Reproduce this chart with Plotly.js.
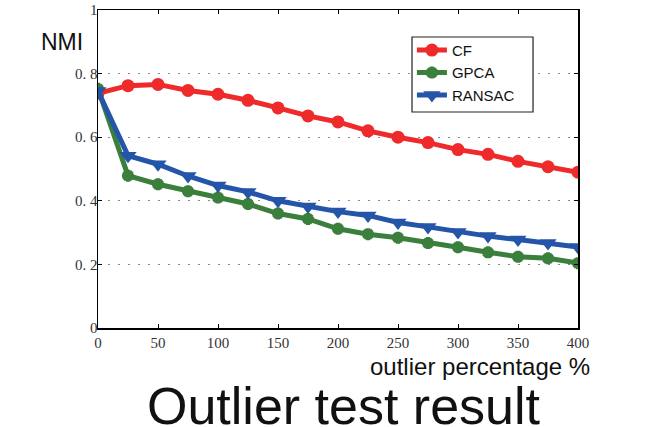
<!DOCTYPE html>
<html>
<head>
<meta charset="utf-8">
<script src="https://cdn.plot.ly/plotly-3.0.1.min.js"></script>
<style>html,body{margin:0;padding:0;background:#fff;}#chart{width:658px;height:427px;}</style>
</head>
<body>
<div id="chart"></div>
<script>
const xValues = [0, 25, 50, 75, 100, 125, 150, 175, 200, 225, 250, 275, 300, 325, 350, 375, 400];
const cfValues = [0.738, 0.762, 0.766, 0.747, 0.735, 0.716, 0.692, 0.667, 0.648, 0.620, 0.600, 0.583, 0.561, 0.546, 0.524, 0.507, 0.490];
const gpcaValues = [0.752, 0.479, 0.452, 0.430, 0.410, 0.390, 0.360, 0.343, 0.312, 0.295, 0.284, 0.267, 0.254, 0.238, 0.224, 0.219, 0.204];
const ransacValues = [0.745, 0.542, 0.515, 0.478, 0.448, 0.428, 0.400, 0.382, 0.366, 0.354, 0.332, 0.318, 0.302, 0.289, 0.278, 0.267, 0.255];
const seriesNames = ["CF", "GPCA", "RANSAC"];
const xTickVals = [0, 50, 100, 150, 200, 250, 300, 350, 400];
const yTickVals = [0, 0.2, 0.4, 0.6, 0.8, 1];
const yTickText = ["0", "0.\u00a02", "0.\u00a04", "0.\u00a06", "0.\u00a08", "1"];

const traces = [
  {x: xValues, y: cfValues, name: seriesNames[0], type: "scatter", mode: "lines+markers",
   line: {color: "#ee2a2a", width: 5}, marker: {symbol: "circle", size: 13, color: "#ee2a2a"}},
  {x: xValues, y: gpcaValues, name: seriesNames[1], type: "scatter", mode: "lines+markers",
   line: {color: "#3a7f3c", width: 5}, marker: {symbol: "asterisk-open", size: 10, color: "#3a7f3c", line: {color: "#3a7f3c", width: 4}}},
  {x: xValues, y: ransacValues, name: seriesNames[2], type: "scatter", mode: "lines+markers",
   line: {color: "#2455a8", width: 5}, marker: {symbol: "triangle-down", size: 15, color: "#2455a8"}}
];

const serif = "Liberation Serif";
const sans = "Liberation Sans";
const layout = {
  width: 658, height: 427,
  margin: {l: 98, r: 80, t: 10, b: 99},
  paper_bgcolor: "#fff", plot_bgcolor: "#fff",
  showlegend: true,
  xaxis: {range: [0, 400], tickvals: xTickVals, ticks: "inside", ticklen: 4, tickcolor: "#000",
    showline: true, linecolor: "#000", linewidth: 1.5, mirror: "ticks", showgrid: false, zeroline: false,
    tickfont: {family: serif, size: 15, color: "#333"}},
  yaxis: {range: [0, 1], tickvals: yTickVals, ticktext: yTickText, ticks: "inside", ticklen: 4, tickcolor: "#000",
    showline: true, linecolor: "#000", linewidth: 1.5, mirror: "ticks", showgrid: true, gridcolor: "#888",
    griddash: "2px,8px", gridwidth: 1.2, zeroline: false, ticklabelstandoff: -4,
    tickfont: {family: serif, size: 15, color: "#333"}},
  legend: {x: 0.654, y: 0.925, xanchor: "left", yanchor: "top", bgcolor: "rgba(0,0,0,0)", borderwidth: 0,
    font: {family: sans, size: 15, color: "#111"}, tracegroupgap: 0},
  shapes: [
    {type: "rect", xref: "paper", yref: "paper", x0: 0.6542, x1: 0.9063, y0: 0.6792, y1: 0.9151,
     fillcolor: "#fff", line: {color: "#222", width: 1.2}, layer: "above"}
  ],
  annotations: [
    {text: "NMI", xref: "paper", yref: "paper", x: -0.075, y: 0.9, xanchor: "center", yanchor: "middle", showarrow: false,
     font: {family: sans, size: 23, color: "#111"}},
    {text: "outlier percentage %", xref: "paper", yref: "paper", x: 0.796, y: -0.12, xanchor: "center", yanchor: "middle", showarrow: false,
     font: {family: sans, size: 24, color: "#111"}},
    {text: "Outlier test result", xref: "paper", yref: "paper", x: 0.5125, y: -0.244, xanchor: "center", yanchor: "middle", showarrow: false,
     font: {family: sans, size: 52, color: "#111"}}
  ]
};
Plotly.newPlot("chart", traces, layout, {staticPlot: true, displayModeBar: false});
</script>
</body>
</html>
